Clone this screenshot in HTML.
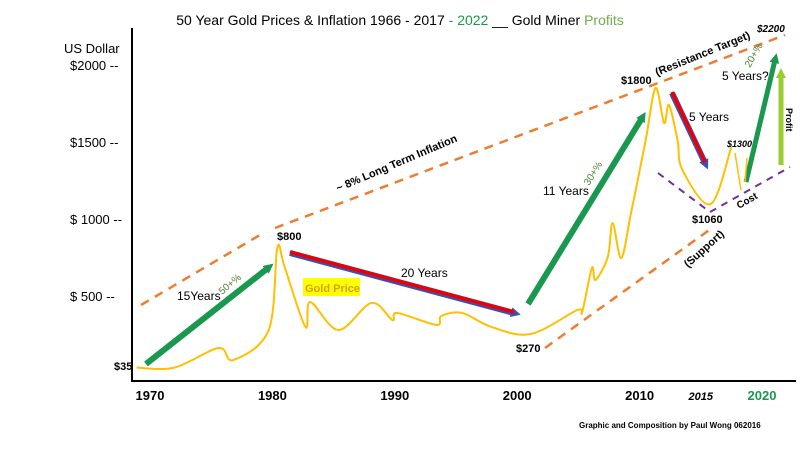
<!DOCTYPE html>
<html><head><meta charset="utf-8"><style>
body{margin:0;background:#fff;width:800px;height:450px;overflow:hidden;font-family:"Liberation Sans",sans-serif}
svg text{font-family:"Liberation Sans",sans-serif}
</style></head><body>
<svg id="chart" width="800" height="450" viewBox="0 0 800 450">
<defs>
<marker id="ag" markerUnits="userSpaceOnUse" markerWidth="10" markerHeight="10" refX="3" refY="5" orient="auto"><path d="M0,0L10,5L0,10z" fill="#1a9850"/></marker>
<marker id="ar" markerUnits="userSpaceOnUse" markerWidth="10" markerHeight="10" refX="3" refY="5" orient="auto"><path d="M0,0L10,5L0,10z" fill="#3b4fb0"/></marker>
<marker id="al" markerUnits="userSpaceOnUse" markerWidth="10" markerHeight="10" refX="3" refY="5" orient="auto"><path d="M0,0L10,5L0,10z" fill="#9acd32"/></marker>
</defs>
<text x="400" y="25" font-size="14" text-anchor="middle">50 Year Gold Prices &amp; Inflation  1966 - 2017 <tspan fill="#1a9850"> - 2022</tspan>  __  Gold Miner <tspan fill="#70ad47">Profits</tspan></text>
<text x="64" y="53" font-size="13">US Dollar</text>
<line x1="132" y1="28" x2="132" y2="382" stroke="#000" stroke-width="2"/>
<line x1="132" y1="381" x2="796" y2="381" stroke="#000" stroke-width="2"/>
<g id="yt"></g><g id="xt"></g>
<path d="M141,305L265,232M275,228L785,35" stroke="#ed7d31" stroke-width="2.5" stroke-dasharray="9,7" fill="none"/>
<path d="M545,348L712,228" stroke="#ed7d31" stroke-width="2.5" stroke-dasharray="9,7" fill="none"/>
<path d="M658,173L710,212L790,167" stroke="#7030a0" stroke-width="2" stroke-dasharray="7,6" fill="none"/>
<path id="gold" fill="none" stroke="#ffc000" stroke-width="2"/>
<line x1="146" y1="364" x2="268" y2="268" stroke="#1a9850" stroke-width="6" marker-end="url(#ag)"/>
<line x1="290" y1="253" x2="514" y2="313" stroke="#3b4fb0" stroke-width="6" marker-end="url(#ar)"/>
<line x1="290" y1="252" x2="514" y2="312" stroke="#e00" stroke-width="3.5"/>
<line x1="528" y1="304" x2="642" y2="118" stroke="#1a9850" stroke-width="6" marker-end="url(#ag)"/>
<line x1="672" y1="93" x2="705" y2="163" stroke="#3b4fb0" stroke-width="6" marker-end="url(#ar)"/>
<line x1="672" y1="92" x2="705" y2="162" stroke="#e00" stroke-width="3.5"/>
<line x1="746" y1="182" x2="775" y2="60" stroke="#1a9850" stroke-width="5" marker-end="url(#ag)"/>
<line x1="781" y1="165" x2="781" y2="75" stroke="#9acd32" stroke-width="5" marker-end="url(#al)"/>
<path d="M735,153L741,190M745,182L747,158" stroke="#ffc000" stroke-width="1.5" fill="none"/>
<g font-size="11" font-weight="bold">
<text x="277" y="240">$800</text>
<text x="516" y="352">$270</text>
<text x="621" y="84">$1800</text>
<text x="692" y="223">$1060</text>
<text x="114" y="370">$35</text>
<text x="727" y="147" font-style="italic" font-size="9">$1300</text>
<text x="757" y="32" font-style="italic" font-size="10">$2200</text>
<text transform="translate(657,76) rotate(-22)" font-size="11">(Resistance Target)</text>
<text transform="translate(338,192) rotate(-23)" font-size="11">~ 8% Long Term Inflation</text>
<text transform="translate(688,268) rotate(-42)" font-size="11">(Support)</text>
<text transform="translate(739,209) rotate(-30)" font-size="10">Cost</text>
<text transform="translate(786,108) rotate(90)" font-size="9">Profit</text>
</g>
<g font-size="12">
<text x="177" y="300">15Years</text>
<text x="401" y="277">20 Years</text>
<text x="543" y="195">11 Years</text>
<text x="689" y="121">5 Years</text>
<text x="722" y="80">5 Years?</text>
</g>
<g font-size="10" fill="#548235">
<text transform="translate(222,295) rotate(-40)">50+%</text>
<text transform="translate(589,186) rotate(-58)">30+%</text>
<text transform="translate(750,68) rotate(-60)">20+%</text>
</g>
<rect x="303" y="278" width="57" height="18" fill="#ffff00"/>
<text x="305" y="292" font-size="11" font-weight="bold" fill="#d4a000">Gold Price</text>
<text x="579" y="428" font-size="8" font-weight="bold">Graphic and Composition by Paul Wong 062016</text>
</svg>
<script>
const yTickValues=[500,1000,1500,2000];
const yTickLabels=["$ 500  --","$ 1000  --","$1500  --","$2000  --"];
const xTickYears=[1970,1980,1990,2000,2010,2015,2020];
const xTickLabels=["1970","1980","1990","2000","2010","2015","2020"];
const goldYears=[1968.9,1972.0,1975.6,1976.8,1979.7,1980.4,1981.0,1982.7,1983.1,1985.4,1988.1,1989.8,1990.2,1993.4,1993.8,1995.5,1997.9,2001.1,2004.9,2005.3,2006.1,2006.4,2007.4,2007.8,2008.5,2009.3,2010.5,2011.3,2012.0,2012.4,2013.1,2013.5,2015.8,2017.5];
const goldValues=[35,35,162,84,279,812,688,299,461,279,455,344,390,312,370,390,299,253,409,396,682,604,753,974,747,1039,1513,1851,1623,1740,1513,1318,1097,1468];
const sx=y=>150+(y-1970)*12.24;
const sy=v=>373-v*0.154;
const NS="http://www.w3.org/2000/svg";
const yt=document.getElementById('yt');
yTickValues.forEach((v,i)=>{const t=document.createElementNS(NS,'text');


t.setAttribute('x',70);t.setAttribute('y',sy(v)+5);t.setAttribute('font-size','13');t.textContent=yTickLabels[i];yt.appendChild(t);});
const xt=document.getElementById('xt');
xTickYears.forEach((yr,i)=>{const t=document.createElementNS(NS,'text');


t.setAttribute('x',sx(yr));t.setAttribute('y',400);t.setAttribute('text-anchor','middle');t.setAttribute('font-weight','bold');
t.setAttribute('font-size',yr===2015?'11':'13');
if(yr===2015)t.setAttribute('font-style','italic');
if(yr===2020)t.setAttribute('fill','#1a9850');
t.textContent=xTickLabels[i];xt.appendChild(t);});
const P=goldYears.map((y,i)=>[sx(y),sy(goldValues[i])]);
let d='M'+P[0][0]+','+P[0][1];
for(let i=0;i<P.length-1;i++){const p0=P[Math.max(0,i-1)],p1=P[i],p2=P[i+1],p3=P[Math.min(P.length-1,i+2)];
d+='C'+(p1[0]+(p2[0]-p0[0])/6)+','+(p1[1]+(p2[1]-p0[1])/6)+' '+(p2[0]-(p3[0]-p1[0])/6)+','+(p2[1]-(p3[1]-p1[1])/6)+' '+p2[0]+','+p2[1];}
document.getElementById('gold').setAttribute('d',d);
</script>
</body></html>
